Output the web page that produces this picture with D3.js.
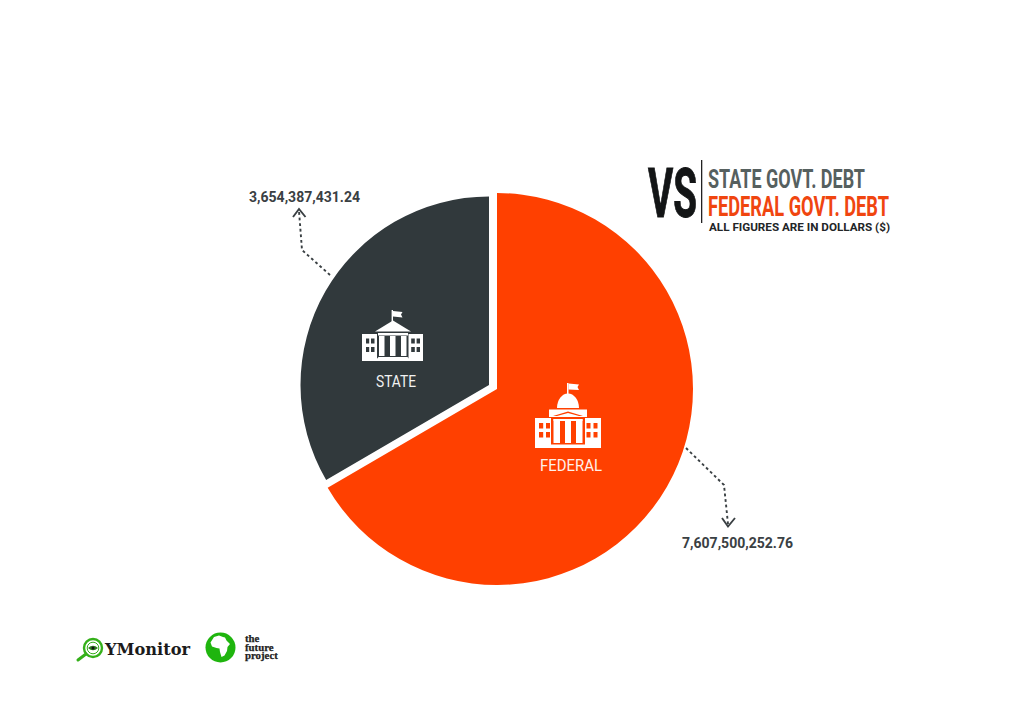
<!DOCTYPE html>
<html><head><meta charset="utf-8">
<script src="https://cdnjs.cloudflare.com/ajax/libs/d3/7.8.5/d3.min.js"></script>
<style>html,body{margin:0;padding:0;background:#fff}svg{display:block}</style>
</head><body><svg id="c" width="1024" height="724" viewBox="0 0 1024 724"></svg>
<script>
// Data
const categories = ["FEDERAL", "STATE"];
const amounts = [7607500252.76, 3654387431.24];
// slice shares as drawn in the picture (percent of the circle)
const drawnShares = [66.6, 33.4];
const titleLines = ["STATE GOVT. DEBT", "FEDERAL GOVT. DEBT"];
const noteLine = "ALL FIGURES ARE IN DOLLARS ($)";
const partnerWords = ["the", "future", "project"];

const ORANGE = "#ff4000", DARK = "#31393c", GREY = "#56605f", INK = "#3a4043", GREEN = "#35b01a";
const svg = d3.select("#c");
const fmt = d3.format(",.2f");

// Pie
const pie = d3.pie().sort(null).startAngle(0).endAngle(2 * Math.PI)(drawnShares);
const sliceLayout = [
  { cx: 497, cy: 389, r: 196, fill: ORANGE },
  { cx: 489, cy: 385, r: 188.5, fill: DARK }
];
svg.selectAll("path.slice").data(pie).join("path")
  .attr("class", "slice")
  .attr("fill", (d, i) => sliceLayout[i].fill)
  .attr("transform", (d, i) => `translate(${sliceLayout[i].cx},${sliceLayout[i].cy})`)
  .attr("d", (d, i) => d3.arc().innerRadius(0).outerRadius(sliceLayout[i].r)(d));

// helpers
function fit(g, str, x, y, w, size, weight, fill, family) {
  return g.append("text").attr("x", x).attr("y", y).attr("font-family", family)
    .attr("font-size", size).attr("font-weight", weight).attr("fill", fill)
    .attr("textLength", w).attr("lengthAdjust", "spacingAndGlyphs").text(str);
}
const NARROW = "'Liberation Sans Narrow','Roboto',sans-serif";
const ROBOTO = "Roboto,'Open Sans',sans-serif";

// Header
const head = svg.append("g");
fit(head, "VS", 648, 216.5, 49, 68, 700, "#131516", NARROW).attr("stroke", "#131516").attr("stroke-width", 1);
head.append("rect").attr("x", 701).attr("y", 160).attr("width", 1.3).attr("height", 63).attr("fill", "#222");
fit(head, titleLines[0], 708, 187.5, 157, 26, 700, GREY, NARROW);
fit(head, titleLines[1], 708, 216, 181, 27, 700, "#f0450f", NARROW);
fit(head, noteLine, 709, 231, 181, 11, 700, "#232527", ROBOTO);

// Value labels
fit(svg, fmt(amounts[1]), 249, 202, 111, 14, 700, INK, ROBOTO);
fit(svg, fmt(amounts[0]), 682, 548, 111, 14, 700, INK, ROBOTO);

// Leader lines
const line = d3.line();
function leader(pts, arrow) {
  svg.append("path").attr("d", line(pts)).attr("fill", "none").attr("stroke", INK)
    .attr("stroke-width", 1.9).attr("stroke-dasharray", "2.8 2.8");
  svg.append("path").attr("d", line(arrow)).attr("fill", "none").attr("stroke", INK).attr("stroke-width", 1.9);
}
leader([[330, 275], [302, 250], [299, 211]], [[293, 217], [299, 209], [305.5, 217]]);
leader([[686, 448], [724, 485], [728, 524]], [[722, 518], [728, 526.5], [735, 518]]);

// Slice labels
fit(svg, categories[1], 376, 387, 40, 16, 400, "#f1f2f2", ROBOTO);
fit(svg, categories[0], 540, 471, 62, 16, 400, "#fff1ea", ROBOTO);

// Icons
function rect(g, x0, y0, x1, y1, f) {
  g.append("rect").attr("x", x0).attr("y", y0).attr("width", x1 - x0).attr("height", y1 - y0).attr("fill", f);
}
function poly(g, pts, f) { g.append("path").attr("d", line(pts) + "Z").attr("fill", f); }

const st = svg.append("g");
rect(st, 391.6, 310, 393, 323, "#fff");
poly(st, [[393, 311], [402.5, 312], [401, 314.5], [402.5, 317.5], [393, 316.5]], "#fff");
poly(st, [[375, 331.5], [393, 320.5], [411, 331.5]], "#fff");
rect(st, 378, 333, 408, 335.5, "#fff");
rect(st, 362, 334, 377, 361, "#fff");
rect(st, 408.5, 334, 423, 361, "#fff");
[[366, 369.2], [371, 374.5], [411.2, 414.8], [416.6, 420]].forEach(([a, b]) => {
  [[338.5, 343.5], [347, 352]].forEach(([c, d]) => rect(st, a, c, b, d, DARK));
});
rect(st, 379, 336, 384.5, 356, "#fff");
rect(st, 390, 336, 395.5, 356, "#fff");
rect(st, 401, 336, 406.5, 356, "#fff");
poly(st, [[378.5, 357], [407.5, 357], [411, 361], [375, 361]], "#fff");

const fed = svg.append("g");
rect(fed, 567, 383, 568.5, 394, "#fff");
poly(fed, [[568.5, 383.5], [579, 384.5], [577.5, 387], [579, 390], [568.5, 389.5]], "#fff");
fed.append("path").attr("d", "M557,408 A11,14.5 0 0 1 579,408 Z").attr("fill", "#fff");
rect(fed, 549, 409.5, 587, 417, "#fff");
poly(fed, [[553, 416], [568, 411.5], [583, 416]], ORANGE);
poly(fed, [[557, 416], [568, 413], [579, 416]], "#fff");
rect(fed, 535, 418, 551, 448, "#fff");
rect(fed, 585, 418, 601, 448, "#fff");
[[539, 543.2], [546, 550], [586.5, 590.5], [593.5, 597.5]].forEach(([a, b]) => {
  [[423, 428.5], [432, 437.5]].forEach(([c, d]) => rect(fed, a, c, b, d, ORANGE));
});
rect(fed, 553.5, 419, 560, 443, "#fff");
rect(fed, 565, 421, 571, 443, "#fff");
rect(fed, 576, 419, 582.5, 443, "#fff");
rect(fed, 553.5, 419, 582.5, 421, "#fff");
poly(fed, [[551, 444.5], [585, 444.5], [588, 448], [548, 448]], "#fff");

// Logos
const lg = svg.append("g");
lg.append("line").attr("x1", 86).attr("y1", 654).attr("x2", 78).attr("y2", 660)
  .attr("stroke", GREEN).attr("stroke-width", 3).attr("stroke-linecap", "round");
lg.append("circle").attr("cx", 93).attr("cy", 648).attr("r", 9).attr("fill", "none").attr("stroke", GREEN).attr("stroke-width", 2.4);
lg.append("circle").attr("cx", 93).attr("cy", 648).attr("r", 5.8).attr("fill", "none").attr("stroke", GREEN).attr("stroke-width", 1);
lg.append("path").attr("d", "M88,648 Q93,643.5 98,648 Q93,652.5 88,648Z").attr("fill", "#2d7a1f");
lg.append("circle").attr("cx", 93).attr("cy", 648).attr("r", 1.5).attr("fill", "#111");
fit(lg, "YMonitor", 105, 655, 85, 16, 700, "#1b1b1b", "'DejaVu Serif',serif");

lg.append("circle").attr("cx", 220.5).attr("cy", 647.5).attr("r", 15).attr("fill", "#1fb50e");
lg.append("path").attr("fill", "#fff").attr("d",
  "M214,637 L219,635.5 L223,637 L225,637.5 L226.5,640.5 L230,644 L227.5,647 L227,651 L224.5,655.5 L221.5,657 L220,652 L219.5,648.5 L216.5,648 L212,646.5 L210.5,642.5 Z");
const partner = lg.append("text").attr("font-family", "'Liberation Serif',serif").attr("font-size", 10.8)
  .attr("font-weight", 700).attr("fill", "#222").attr("stroke", "#222").attr("stroke-width", 0.25);
partner.selectAll("tspan").data(partnerWords).join("tspan")
  .attr("x", 245).attr("y", (d, i) => 642 + i * 8.6).text(d => d);
</script></body></html>
